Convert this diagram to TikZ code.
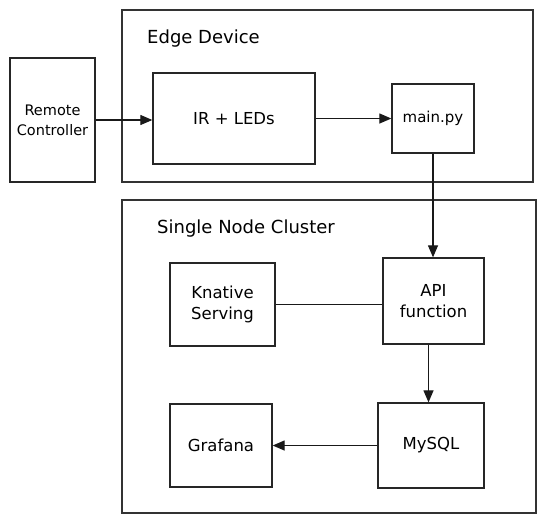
\documentclass[tikz,border=0pt]{standalone}
\usepackage{fontspec}
\setmainfont{DejaVu Sans}
\usetikzlibrary{arrows.meta}
\begin{document}
\begin{tikzpicture}[x=1pt,y=-1pt,
  box/.style={draw=black!85, line width=1.3pt, fill=white, align=center, inner sep=0pt, font=\fontsize{16.5}{21}\selectfont},
  frame/.style={draw=black!80, line width=1.3pt},
  title/.style={anchor=west, inner sep=0pt, font=\fontsize{18}{21}\selectfont},
  conn/.style={line width=1.2pt, draw=black!90},
  arr/.style={conn, -{Triangle[length=12pt,width=10pt]}}]
\useasboundingbox (0,0) rectangle (545,523);
% containers
\node[frame, minimum width=411pt, minimum height=172pt, inner sep=0pt] (edge) at (327.5,96) {};
\node[frame, minimum width=414pt, minimum height=313pt, inner sep=0pt] (cluster) at (329,356.5) {};
\node[title] (edget) at (147,39) {Edge Device};
\node[title] (clustert) at (157,229) {Single Node Cluster};
% nodes
\node[box, minimum width=85pt, minimum height=124pt, font=\fontsize{14.5}{20}\selectfont] (rc) at (52.5,120) {Remote\\Controller};
\node[box, minimum width=162pt, minimum height=91pt] (ir) at (234,118.5) {IR + LEDs};
\node[box, minimum width=82pt, minimum height=69pt, font=\fontsize{15}{18}\selectfont] (main) at (433,118.5) {main.py};
\node[box, minimum width=105pt, minimum height=83pt] (kn) at (222.5,304.5) {Knative\\Serving};
\node[box, minimum width=101pt, minimum height=86pt] (api) at (433.5,301) {API\\function};
\node[box, minimum width=106pt, minimum height=85pt] (mysql) at (431,445.5) {MySQL};
\node[box, minimum width=102pt, minimum height=83pt] (graf) at (221,445.5) {Grafana};
% connectors
\draw[arr] (rc.east) -- (ir.west |- rc.east);
\draw[arr] (ir.east) -- (main.west);
\draw[arr] (main.south) -- (main.south |- api.north);
\draw[conn] (kn.east) -- (kn.east -| api.west);
\draw[arr] ([xshift=-5pt]api.south) -- ([xshift=-2.5pt]mysql.north);
\draw[arr] (mysql.west) -- (graf.east);
\end{tikzpicture}
\end{document}
